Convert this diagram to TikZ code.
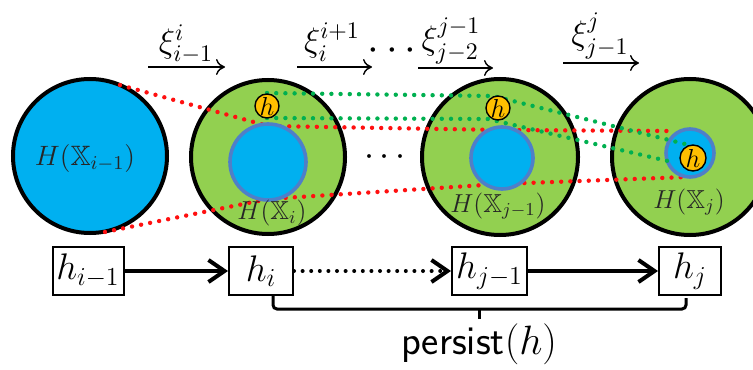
\RequirePackage{fix-cm}
\documentclass[tikz,border=0pt]{standalone}
\usepackage{amssymb}
\usetikzlibrary{arrows.meta}
\definecolor{cblue}{HTML}{00B0F0}
\definecolor{cgreen}{HTML}{92D050}
\definecolor{cinner}{HTML}{4F7FC8}
\definecolor{corange}{HTML}{FFC000}
\definecolor{cred}{HTML}{FF1010}
\definecolor{cgdot}{HTML}{00B050}
\begin{document}
\begin{tikzpicture}[x=0.5pt,y=-0.5pt,
  ring/.style={circle, draw=black, line width=2pt, inner sep=0pt},
  innerc/.style={circle, draw=cinner, fill=cblue, line width=1.8pt, inner sep=0pt},
  hball/.style={circle, draw=black, fill=corange, line width=0.7pt, inner sep=0pt, minimum size=12pt, font=\fontsize{13}{13}\selectfont},
  reddots/.style={draw=cred, line width=2.2pt, line cap=round, dash pattern=on 0pt off 4.6pt},
  greendots/.style={draw=cgdot, line width=2.2pt, line cap=round, dash pattern=on 0pt off 4.6pt},
  clabel/.style={inner sep=0pt, text=black!85, font=\fontsize{13}{13}\selectfont},
  xilabel/.style={inner sep=0pt, font=\fontsize{17}{17}\selectfont},
  toparrow/.style={line width=0.7pt, -{Computer Modern Rightarrow[length=4.5pt,width=8pt,line width=0.7pt]}},
  hbox/.style={draw, line width=1pt, fill=white, minimum height=24pt, inner sep=1pt, font=\fontsize{18.5}{19}\selectfont},
  thickarrow/.style={line width=2pt, -{Straight Barb[length=8pt,width=11pt,line width=2pt]}},
  dotarrow/.style={line width=2pt, line cap=round, dash pattern=on 0pt off 4.3pt, -{Straight Barb[length=8pt,width=11pt,line width=2pt]}},
  bracket/.style={line width=1.5pt, rounded corners=2pt}
]
\clip (0,0) rectangle (753,369);
% outer circles
\node[ring, fill=cblue, minimum size=77pt] (c1) at (90,156) {};
\node[ring, fill=cgreen, minimum size=77pt] (c2) at (268,157) {};
\node[ring, fill=cgreen, minimum size=78pt] (c3) at (500,157) {};
\node[ring, fill=cgreen, minimum size=78pt] (c4) at (690,157) {};
% red dotted lines
\coordinate (r1) at (120,85);
\coordinate (r2) at (268,126);
\coordinate (r3) at (500,130);
\coordinate (r4) at (671,131);
\coordinate (s1) at (105,232);
\coordinate (s2) at (268,199);
\coordinate (s3) at (500,184);
\coordinate (s4) at (687,177);
\draw[reddots] (r1) -- (r2) -- (r3) -- (r4);
\draw[reddots] (s1) -- (s2) -- (s3) -- (s4);
% inner circles
\node[innerc, minimum size=38pt] (i2) at (268,162) {};
\node[innerc, minimum size=31pt] (i3) at (502,158) {};
\node[innerc, minimum size=24pt] (i4) at (690,153) {};
% green dotted lines
\coordinate (g1) at (267,93);
\coordinate (g2) at (493,96);
\coordinate (g3) at (693,146);
\coordinate (k1) at (267,118);
\coordinate (k2) at (488,119);
\coordinate (k3) at (672,162);
\draw[greendots] (g1) -- (g2) -- (g3);
\draw[greendots] (k1) -- (k2) -- (k3);
% h balls
\node[hball] (h2) at (267,106) {$h$};
\node[hball] (h3) at (498,108) {$h$};
\node[hball, minimum size=13pt] (h4) at (693,158) {$h$};
% circle labels
\node[clabel, font=\fontsize{14}{14}\selectfont] (l1) at (85,158) {$H(\mathbb{X}_{i-1})$};
\node[clabel] (l2) at (272,213) {$H(\mathbb{X}_i)$};
\node[clabel] (l3) at (498,206) {$H(\mathbb{X}_{j-1})$};
\node[clabel] (l4) at (689,202) {$H(\mathbb{X}_j)$};
% top arrows
\coordinate (a1) at (148,67); \coordinate (b1e) at (225,67);
\coordinate (a2) at (297,67); \coordinate (b2e) at (372,67);
\coordinate (a3) at (418,68); \coordinate (b3e) at (493,68);
\coordinate (a4) at (563,63); \coordinate (b4e) at (639,63);
\draw[toparrow] (a1) -- (b1e);
\draw[toparrow] (a2) -- (b2e);
\draw[toparrow] (a3) -- (b3e);
\draw[toparrow] (a4) -- (b4e);
\node[xilabel] (x1) at (186,44) {$\xi^{i}_{i-1}$};
\node[xilabel] (x2) at (332,42) {$\xi^{i+1}_{i}$};
\node[xilabel] (x3) at (451,41) {$\xi^{j-1}_{j-2}$};
\node[xilabel] (x4) at (600,36) {$\xi^{j}_{j-1}$};
\node[inner sep=0pt, font=\fontsize{21}{21}\selectfont] (d1) at (392,51) {$\cdots$};
\node[inner sep=0pt, font=\fontsize{18}{18}\selectfont] (d2) at (385,157) {$\cdots$};
% bottom chain
\node[hbox, minimum width=35.5pt] (n1) at (88,271) {$h_{i-1}$};
\node[hbox, minimum width=32pt] (n2) at (261,271) {$h_i$};
\node[hbox, minimum width=37.5pt] (n3) at (489.5,271) {$h_{j-1}$};
\node[hbox, minimum width=31pt] (n4) at (690,271) {$h_j$};
\draw[thickarrow] (n1) -- (n2);
\draw[dotarrow] (n2) -- (n3);
\draw[thickarrow] (n3) -- (n4);
% bracket
\coordinate (p1) at (273,296);
\coordinate (pm) at (479,309);
\coordinate (p2) at (686,298);
\coordinate (pt) at (479,319);
\draw[bracket] (p1) |- (pm) -| (p2);
\draw[line width=1.5pt] (pm) -- (pt);
\node[inner sep=0pt, font=\fontsize{20.5}{21}\selectfont] (ps) at (479,344) {\textsf{persist}$(h)$};
\end{tikzpicture}
\end{document}
